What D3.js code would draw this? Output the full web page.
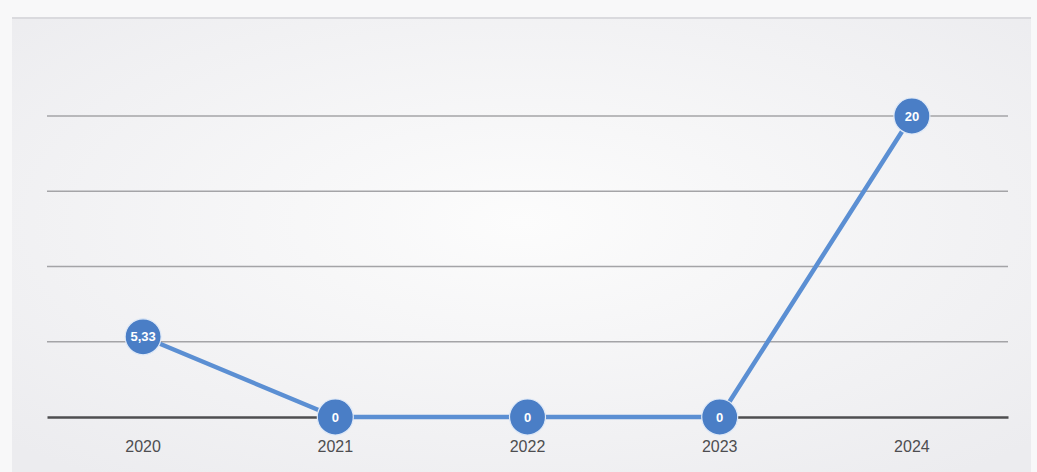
<!DOCTYPE html>
<html>
<head>
<meta charset="utf-8">
<script src="https://cdn.jsdelivr.net/npm/d3@7"></script>
<style>
  html, body { margin: 0; padding: 0; background: #f6f6f7; }
  svg { display: block; }
</style>
</head>
<body>
<svg id="chart" width="1037" height="472"></svg>
<script>
// Yearly values shown on the line
const years = ["2020", "2021", "2022", "2023", "2024"];
const values = [5.33, 0, 0, 0, 20];
const labels = ["5,33", "0", "0", "0", "20"];
const gridTicks = [0, 5, 10, 15, 20];

const W = 1037, H = 472;
const margin = { left: 47, right: 29, top: 116, bottom: 55 };

const svg = d3.select("#chart");

// Panel background with a soft lighter centre
const defs = svg.append("defs");
const grad = defs.append("radialGradient").attr("id", "panelBg")
  .attr("cx", "50%").attr("cy", "45%").attr("r", "70%");
grad.append("stop").attr("offset", "0%").attr("stop-color", "#fcfcfc");
grad.append("stop").attr("offset", "100%").attr("stop-color", "#ececef");

svg.append("rect").attr("x", 0).attr("y", 0).attr("width", W).attr("height", H)
  .attr("fill", "#f8f8f9");
svg.append("rect").attr("x", 12).attr("y", 18).attr("width", W - 18).attr("height", H - 18)
  .attr("fill", "url(#panelBg)");
svg.append("line").attr("x1", 12).attr("x2", W - 6).attr("y1", 18).attr("y2", 18)
  .attr("stroke", "#dadade").attr("stroke-width", 2);

const x = d3.scaleBand().domain(years).range([margin.left, W - margin.right]);
const y = d3.scaleLinear().domain([0, 20]).range([H - margin.bottom, margin.top]);
const cx = d => x(d) + x.bandwidth() / 2;

// Horizontal gridlines
svg.append("g").selectAll("line").data(gridTicks.filter(t => t > 0)).join("line")
  .attr("x1", margin.left).attr("x2", W - margin.right)
  .attr("y1", d => y(d)).attr("y2", d => y(d))
  .attr("stroke", "#a4a4a7").attr("stroke-width", 1.4);

// Category axis
const xAxis = svg.append("g")
  .attr("transform", `translate(0,${y(0)})`)
  .call(d3.axisBottom(x).tickSize(0).tickPadding(24));
xAxis.select(".domain").attr("stroke", "#4e4e50").attr("stroke-width", 2.6);
xAxis.selectAll("text")
  .attr("font-family", "Liberation Sans Narrow, Liberation Sans, Arial, sans-serif")
  .attr("font-size", 16).attr("fill", "#4d4d50");

// Line
const pts = years.map((d, i) => ({ year: d, v: values[i], label: labels[i] }));
svg.append("path").datum(pts)
  .attr("d", d3.line().x(d => cx(d.year)).y(d => y(d.v)))
  .attr("fill", "none").attr("stroke", "#5b8fd3").attr("stroke-width", 4.5)
  .attr("stroke-linejoin", "round");

// Markers with value labels
const m = svg.append("g").selectAll("g").data(pts).join("g")
  .attr("transform", d => `translate(${cx(d.year)},${y(d.v)})`);
m.append("circle").attr("r", 18).attr("fill", "#4a7ec6")
  .attr("stroke", "#dfe9f7").attr("stroke-width", 1.2);
m.append("text").text(d => d.label)
  .attr("text-anchor", "middle").attr("dy", "0.36em")
  .attr("font-family", "Liberation Sans, Arial, sans-serif")
  .attr("font-size", 13).attr("font-weight", "bold").attr("fill", "#ffffff");
</script>
</body>
</html>
